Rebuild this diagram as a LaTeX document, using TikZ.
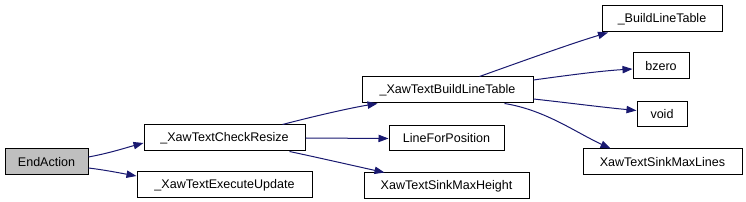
\documentclass[tikz,border=0pt]{standalone}
\usepackage{fontspec}
\setmainfont{Liberation Sans}
\usetikzlibrary{arrows.meta,calc}
\definecolor{edgeblue}{HTML}{191970}
\definecolor{grayfill}{HTML}{BFBFBF}
\begin{document}
\begin{tikzpicture}[x=0.75pt,y=-0.75pt,
  fn/.style={draw=black,line width=0.75pt,rectangle,inner sep=0pt,font=\fontsize{9.4}{11}\selectfont,text=black},
  edge/.style={draw=edgeblue,line width=0.75pt,-{Triangle[length=7.5pt,width=5.5pt]}}]
\useasboundingbox (0,0) rectangle (746,202);
\node[fn,fill=grayfill,minimum width=62.25pt,minimum height=19.5pt] (end) at (46.5,162) {EndAction};
\node[fn,minimum width=120.75pt,minimum height=19.5pt] (chk) at (224.5,138) {\_XawTextCheckResize};
\node[fn,minimum width=131.25pt,minimum height=19.5pt] (exu) at (224.5,185) {\_XawTextExecuteUpdate};
\node[fn,minimum width=128.25pt,minimum height=19.5pt] (blt) at (447.5,90) {\_XawTextBuildLineTable};
\node[fn,minimum width=86.25pt,minimum height=18.75pt] (lfp) at (446.5,138.5) {LineForPosition};
\node[fn,minimum width=123.75pt,minimum height=19.5pt] (smh) at (446.5,186) {XawTextSinkMaxHeight};
\node[fn,minimum width=90pt,minimum height=19.5pt] (bl2) at (662,19) {\_BuildLineTable};
\node[fn,minimum width=42pt,minimum height=19.5pt] (bz) at (661,66) {bzero};
\node[fn,minimum width=37.5pt,minimum height=18.75pt] (vd) at (662,114.5) {void};
\node[fn,minimum width=119.25pt,minimum height=19.5pt] (sml) at (662.5,162) {XawTextSinkMaxLines};
\draw[edge] ($(end.east)+(0,-5)$) .. controls (110,153) and (125,148) .. ($(chk.west)+(0,5)$);
\draw[edge] ($(end.east)+(0,6)$) .. controls (105,170) and (120,173) .. ($(exu.west)+(0,-9)$);
\draw[edge] ($(chk.north)+(58,0)$) .. controls (315,116) and (350,108) .. ($(blt.south)+(-70,0)$);
\draw[edge] (chk.east) -- (lfp.west);
\draw[edge] ($(chk.south)+(65,0)$) .. controls (320,158) and (355,166) .. ($(smh.north)+(-62,0)$);
\draw[edge] ($(blt.north)+(32,0)$) .. controls (520,62) and (570,44) .. ($(bl2.south)+(-54,0)$);
\draw[edge] ($(blt.east)+(0,-10)$) .. controls (570,75) and (600,71) .. ($(bz.west)+(0,3)$);
\draw[edge] ($(blt.east)+(0,9)$) .. controls (570,103) and (600,107) .. ($(vd.west)+(0,-4)$);
\draw[edge] ($(blt.south)+(57,0)$) .. controls (545,110) and (575,132) .. ($(sml.north)+(-52,0)$);
\end{tikzpicture}
\end{document}
